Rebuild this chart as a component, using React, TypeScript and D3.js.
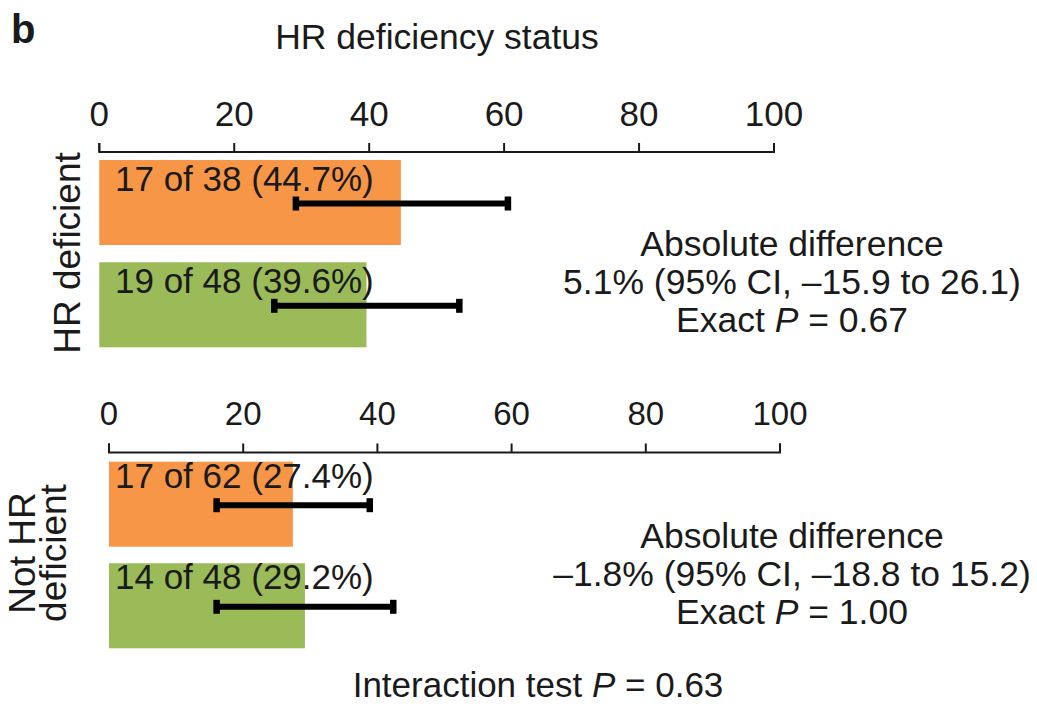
import React from "react";
import * as d3 from "d3";

// ---- data ----
const panels = ["HR deficient", "Not HR deficient"];
const armLabels = ["17 of 38 (44.7%)", "19 of 48 (39.6%)", "17 of 62 (27.4%)", "14 of 48 (29.2%)"];
const armPanel = [0, 0, 1, 1];
const armIndex = [0, 1, 0, 1];
const pctValues = [44.7, 39.6, 27.4, 29.2];
const ciLow = [29.1, 25.9, 16.0, 16.0];
const ciHigh = [60.6, 53.4, 38.9, 42.4];
const tickValues = [0, 20, 40, 60, 80, 100];
const diffLines = [
  ["Absolute difference", "5.1% (95% CI, \u201315.9 to 26.1)", "0.67"],
  ["Absolute difference", "\u20131.8% (95% CI, \u201318.8 to 15.2)", "1.00"],
];
const interactionP = "0.63";
const title = "HR deficiency status";
const panelLetter = "b";

// ---- layout ----
const W = 1037;
const H = 709;
const FONT = "'Liberation Sans', Arial, Helvetica, sans-serif";
const armColors = ["#F79646", "#9BBB59"];
const panelLayout = [
  { x0: 99.3, x1: 774, axisY: 152, tickFont: 35, tickBase: 126, barTop: [160, 262.3], labelDy: 30.5 },
  { x0: 109, x1: 780, axisY: 452.5, tickFont: 33, tickBase: 425, barTop: [461.7, 563.3], labelDy: 26 },
];
const BAR_H = 85;
const LABEL_X = 115;

export default function App() {
  const scales = panelLayout.map((p) => d3.scaleLinear().domain([0, 100]).range([p.x0, p.x1]));
  const ink = "#1a1a1a";
  return (
    <svg
      width={W}
      height={H}
      viewBox={`0 0 ${W} ${H}`}
      style={{ position: "absolute", left: 0, top: 0, background: "#fff" }}
      fontFamily={FONT}
    >
      <rect width={W} height={H} fill="#fff" />
      <text x={11} y={43} fontSize={40} fontWeight="bold" fill={ink}>{panelLetter}</text>
      <text x={437} y={49} fontSize={35.5} textAnchor="middle" fill={ink}>{title}</text>

      {panelLayout.map((p, pi) => {
        const x = scales[pi];
        return (
          <g key={"ax" + pi}>
            <path
              d={`M${x(0)},${p.axisY - 9}V${p.axisY}H${x(100)}V${p.axisY - 9}`}
              fill="none"
              stroke={ink}
              strokeWidth={2}
            />
            {tickValues.map((t) => (
              <g key={t}>
                <line x1={x(t)} x2={x(t)} y1={p.axisY} y2={p.axisY - 9} stroke={ink} strokeWidth={2} />
                <text x={x(t)} y={p.tickBase} fontSize={p.tickFont} textAnchor="middle" fill={ink}>
                  {t}
                </text>
              </g>
            ))}
          </g>
        );
      })}

      {pctValues.map((v, i) => {
        const pi = armPanel[i];
        const p = panelLayout[pi];
        const x = scales[pi];
        const top = p.barTop[armIndex[i]];
        const cy = top + 43.5;
        return (
          <g key={"bar" + i}>
            <rect x={x(0)} y={top} width={x(v) - x(0)} height={BAR_H} fill={armColors[armIndex[i]]} />
            <text x={LABEL_X} y={top + p.labelDy} fontSize={35} fill={ink}>{armLabels[i]}</text>
            <line x1={x(ciLow[i])} x2={x(ciHigh[i])} y1={cy} y2={cy} stroke="#000" strokeWidth={6} />
            <rect x={x(ciLow[i]) - 3} y={cy - 7} width={6.5} height={14} fill="#000" />
            <rect x={x(ciHigh[i]) - 3.5} y={cy - 7} width={6.5} height={14} fill="#000" />
          </g>
        );
      })}

      {diffLines.map((lines, i) => {
        const base = i === 0 ? 256 : 548;
        return (
          <g key={"diff" + i} fontSize={35.5} fill={ink} textAnchor="middle">
            <text x={792} y={base}>{lines[0]}</text>
            <text x={792} y={base + 38}>{lines[1]}</text>
            <text x={792} y={base + 76}>
              Exact <tspan fontStyle="italic">P</tspan> = {lines[2]}
            </text>
          </g>
        );
      })}

      <text transform="translate(80,253) rotate(-90)" fontSize={37} textAnchor="middle" fill={ink}>
        {panels[0]}
      </text>
      <text transform="translate(35,553) rotate(-90)" fontSize={37} textAnchor="middle" fill={ink}>
        {panels[1].split(" ").slice(0, 2).join(" ")}
      </text>
      <text transform="translate(66,553) rotate(-90)" fontSize={37} textAnchor="middle" fill={ink}>
        {panels[1].split(" ").slice(2).join(" ")}
      </text>

      <text x={538} y={697} fontSize={35} textAnchor="middle" fill={ink}>
        Interaction test <tspan fontStyle="italic">P</tspan> = {interactionP}
      </text>
    </svg>
  );
}
